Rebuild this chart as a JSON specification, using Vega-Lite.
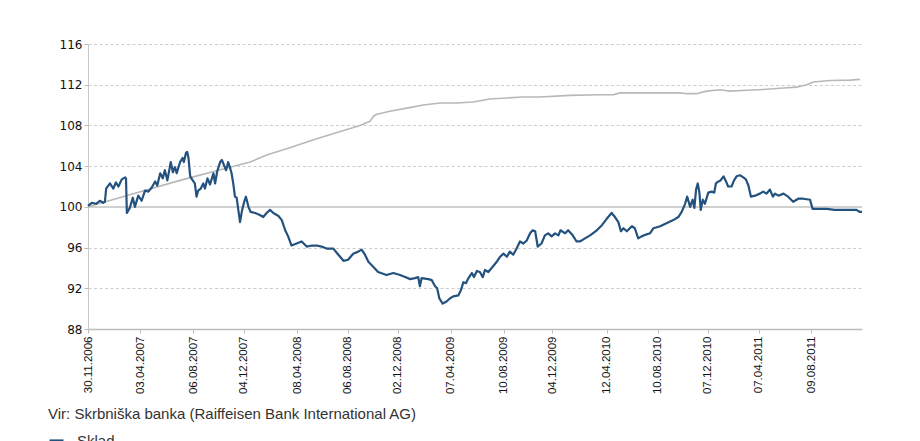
{
  "$schema": "https://vega.github.io/schema/vega-lite/v6.json",
  "width": 774,
  "height": 285,
  "autosize": {"type": "none"},
  "padding": {"left": 88, "top": 44, "right": 58, "bottom": 112},
  "background": "white",
  "config": {"view": {"stroke": null}, "font": "Liberation Sans"},
  "data": {
    "values": [
      {"series": "Primerjalni indeks", "date": "2006-11-30", "value": 100.0},
      {"series": "Primerjalni indeks", "date": "2007-03-09", "value": 101.2},
      {"series": "Primerjalni indeks", "date": "2007-07-06", "value": 102.6},
      {"series": "Primerjalni indeks", "date": "2007-11-01", "value": 103.9},
      {"series": "Primerjalni indeks", "date": "2007-12-19", "value": 104.4},
      {"series": "Primerjalni indeks", "date": "2008-01-27", "value": 105.1},
      {"series": "Primerjalni indeks", "date": "2008-03-22", "value": 105.8},
      {"series": "Primerjalni indeks", "date": "2008-05-17", "value": 106.6},
      {"series": "Primerjalni indeks", "date": "2008-08-04", "value": 107.6},
      {"series": "Primerjalni indeks", "date": "2008-09-04", "value": 108.0},
      {"series": "Primerjalni indeks", "date": "2008-09-28", "value": 108.4},
      {"series": "Primerjalni indeks", "date": "2008-10-06", "value": 108.9},
      {"series": "Primerjalni indeks", "date": "2008-10-14", "value": 109.1},
      {"series": "Primerjalni indeks", "date": "2008-11-14", "value": 109.4},
      {"series": "Primerjalni indeks", "date": "2008-12-24", "value": 109.7},
      {"series": "Primerjalni indeks", "date": "2009-02-01", "value": 110.0},
      {"series": "Primerjalni indeks", "date": "2009-03-13", "value": 110.2},
      {"series": "Primerjalni indeks", "date": "2009-04-21", "value": 110.2},
      {"series": "Primerjalni indeks", "date": "2009-05-30", "value": 110.3},
      {"series": "Primerjalni indeks", "date": "2009-07-09", "value": 110.6},
      {"series": "Primerjalni indeks", "date": "2009-08-18", "value": 110.7},
      {"series": "Primerjalni indeks", "date": "2009-09-26", "value": 110.8},
      {"series": "Primerjalni indeks", "date": "2009-11-04", "value": 110.8},
      {"series": "Primerjalni indeks", "date": "2010-01-14", "value": 110.95},
      {"series": "Primerjalni indeks", "date": "2010-03-26", "value": 111.02},
      {"series": "Primerjalni indeks", "date": "2010-04-27", "value": 111.02},
      {"series": "Primerjalni indeks", "date": "2010-05-13", "value": 111.2},
      {"series": "Primerjalni indeks", "date": "2010-08-23", "value": 111.2},
      {"series": "Primerjalni indeks", "date": "2010-10-02", "value": 111.2},
      {"series": "Primerjalni indeks", "date": "2010-10-18", "value": 111.12},
      {"series": "Primerjalni indeks", "date": "2010-11-10", "value": 111.12},
      {"series": "Primerjalni indeks", "date": "2010-12-04", "value": 111.37},
      {"series": "Primerjalni indeks", "date": "2011-01-05", "value": 111.5},
      {"series": "Primerjalni indeks", "date": "2011-01-28", "value": 111.37},
      {"series": "Primerjalni indeks", "date": "2011-03-09", "value": 111.45},
      {"series": "Primerjalni indeks", "date": "2011-04-25", "value": 111.55},
      {"series": "Primerjalni indeks", "date": "2011-06-04", "value": 111.67},
      {"series": "Primerjalni indeks", "date": "2011-07-05", "value": 111.76},
      {"series": "Primerjalni indeks", "date": "2011-07-29", "value": 112.0},
      {"series": "Primerjalni indeks", "date": "2011-08-14", "value": 112.26},
      {"series": "Primerjalni indeks", "date": "2011-09-22", "value": 112.42},
      {"series": "Primerjalni indeks", "date": "2011-11-09", "value": 112.45},
      {"series": "Primerjalni indeks", "date": "2011-12-02", "value": 112.52},

      {"series": "Sklad", "date": "2006-11-30", "value": 100.1},
      {"series": "Sklad", "date": "2006-12-09", "value": 100.4},
      {"series": "Sklad", "date": "2006-12-19", "value": 100.3},
      {"series": "Sklad", "date": "2006-12-28", "value": 100.6},
      {"series": "Sklad", "date": "2007-01-05", "value": 100.4},
      {"series": "Sklad", "date": "2007-01-09", "value": 100.5},
      {"series": "Sklad", "date": "2007-01-12", "value": 101.8},
      {"series": "Sklad", "date": "2007-01-21", "value": 102.3},
      {"series": "Sklad", "date": "2007-01-29", "value": 101.8},
      {"series": "Sklad", "date": "2007-02-04", "value": 102.4},
      {"series": "Sklad", "date": "2007-02-10", "value": 102.0},
      {"series": "Sklad", "date": "2007-02-18", "value": 102.7},
      {"series": "Sklad", "date": "2007-02-26", "value": 102.9},
      {"series": "Sklad", "date": "2007-02-28", "value": 102.8},
      {"series": "Sklad", "date": "2007-03-02", "value": 99.4},
      {"series": "Sklad", "date": "2007-03-09", "value": 99.9},
      {"series": "Sklad", "date": "2007-03-16", "value": 100.9},
      {"series": "Sklad", "date": "2007-03-21", "value": 100.0},
      {"series": "Sklad", "date": "2007-03-29", "value": 101.1},
      {"series": "Sklad", "date": "2007-04-06", "value": 100.6},
      {"series": "Sklad", "date": "2007-04-14", "value": 101.6},
      {"series": "Sklad", "date": "2007-04-22", "value": 101.5},
      {"series": "Sklad", "date": "2007-04-30", "value": 101.9},
      {"series": "Sklad", "date": "2007-05-08", "value": 102.5},
      {"series": "Sklad", "date": "2007-05-13", "value": 102.1},
      {"series": "Sklad", "date": "2007-05-20", "value": 103.3},
      {"series": "Sklad", "date": "2007-05-26", "value": 102.8},
      {"series": "Sklad", "date": "2007-05-31", "value": 103.6},
      {"series": "Sklad", "date": "2007-06-06", "value": 102.6},
      {"series": "Sklad", "date": "2007-06-14", "value": 104.4},
      {"series": "Sklad", "date": "2007-06-19", "value": 103.4},
      {"series": "Sklad", "date": "2007-06-24", "value": 103.9},
      {"series": "Sklad", "date": "2007-06-28", "value": 103.3},
      {"series": "Sklad", "date": "2007-07-06", "value": 104.4},
      {"series": "Sklad", "date": "2007-07-12", "value": 104.8},
      {"series": "Sklad", "date": "2007-07-15", "value": 104.4},
      {"series": "Sklad", "date": "2007-07-20", "value": 105.3},
      {"series": "Sklad", "date": "2007-07-23", "value": 105.4},
      {"series": "Sklad", "date": "2007-07-26", "value": 104.8},
      {"series": "Sklad", "date": "2007-07-30", "value": 103.0},
      {"series": "Sklad", "date": "2007-08-05", "value": 102.6},
      {"series": "Sklad", "date": "2007-08-10", "value": 102.3},
      {"series": "Sklad", "date": "2007-08-14", "value": 101.0},
      {"series": "Sklad", "date": "2007-08-18", "value": 101.6},
      {"series": "Sklad", "date": "2007-08-24", "value": 101.8},
      {"series": "Sklad", "date": "2007-08-30", "value": 102.3},
      {"series": "Sklad", "date": "2007-09-03", "value": 101.8},
      {"series": "Sklad", "date": "2007-09-09", "value": 102.8},
      {"series": "Sklad", "date": "2007-09-15", "value": 102.2},
      {"series": "Sklad", "date": "2007-09-23", "value": 103.3},
      {"series": "Sklad", "date": "2007-09-27", "value": 102.3},
      {"series": "Sklad", "date": "2007-10-02", "value": 103.5},
      {"series": "Sklad", "date": "2007-10-09", "value": 104.4},
      {"series": "Sklad", "date": "2007-10-13", "value": 104.6},
      {"series": "Sklad", "date": "2007-10-18", "value": 104.1},
      {"series": "Sklad", "date": "2007-10-23", "value": 103.6},
      {"series": "Sklad", "date": "2007-10-28", "value": 104.4},
      {"series": "Sklad", "date": "2007-11-01", "value": 103.9},
      {"series": "Sklad", "date": "2007-11-05", "value": 103.3},
      {"series": "Sklad", "date": "2007-11-09", "value": 102.3},
      {"series": "Sklad", "date": "2007-11-13", "value": 101.0},
      {"series": "Sklad", "date": "2007-11-17", "value": 100.9},
      {"series": "Sklad", "date": "2007-11-21", "value": 99.7},
      {"series": "Sklad", "date": "2007-11-25", "value": 98.5},
      {"series": "Sklad", "date": "2007-11-30", "value": 99.7},
      {"series": "Sklad", "date": "2007-12-05", "value": 100.5},
      {"series": "Sklad", "date": "2007-12-09", "value": 101.0},
      {"series": "Sklad", "date": "2007-12-15", "value": 100.0},
      {"series": "Sklad", "date": "2007-12-20", "value": 99.5},
      {"series": "Sklad", "date": "2007-12-31", "value": 99.4},
      {"series": "Sklad", "date": "2008-01-11", "value": 99.2},
      {"series": "Sklad", "date": "2008-01-19", "value": 99.0},
      {"series": "Sklad", "date": "2008-01-27", "value": 99.4},
      {"series": "Sklad", "date": "2008-02-04", "value": 99.7},
      {"series": "Sklad", "date": "2008-02-12", "value": 99.4},
      {"series": "Sklad", "date": "2008-02-24", "value": 99.1},
      {"series": "Sklad", "date": "2008-03-03", "value": 98.7},
      {"series": "Sklad", "date": "2008-03-11", "value": 97.7},
      {"series": "Sklad", "date": "2008-03-18", "value": 97.1},
      {"series": "Sklad", "date": "2008-03-26", "value": 96.2},
      {"series": "Sklad", "date": "2008-04-07", "value": 96.4},
      {"series": "Sklad", "date": "2008-04-19", "value": 96.6},
      {"series": "Sklad", "date": "2008-05-01", "value": 96.1},
      {"series": "Sklad", "date": "2008-05-13", "value": 96.2},
      {"series": "Sklad", "date": "2008-05-25", "value": 96.2},
      {"series": "Sklad", "date": "2008-06-05", "value": 96.1},
      {"series": "Sklad", "date": "2008-06-17", "value": 95.9},
      {"series": "Sklad", "date": "2008-07-03", "value": 95.9},
      {"series": "Sklad", "date": "2008-07-15", "value": 95.3},
      {"series": "Sklad", "date": "2008-07-27", "value": 94.7},
      {"series": "Sklad", "date": "2008-08-07", "value": 94.8},
      {"series": "Sklad", "date": "2008-08-19", "value": 95.4},
      {"series": "Sklad", "date": "2008-08-31", "value": 95.6},
      {"series": "Sklad", "date": "2008-09-08", "value": 95.8},
      {"series": "Sklad", "date": "2008-09-16", "value": 95.3},
      {"series": "Sklad", "date": "2008-09-24", "value": 94.6},
      {"series": "Sklad", "date": "2008-10-06", "value": 94.1},
      {"series": "Sklad", "date": "2008-10-17", "value": 93.6},
      {"series": "Sklad", "date": "2008-11-06", "value": 93.3},
      {"series": "Sklad", "date": "2008-11-22", "value": 93.5},
      {"series": "Sklad", "date": "2008-12-08", "value": 93.3},
      {"series": "Sklad", "date": "2008-12-20", "value": 93.1},
      {"series": "Sklad", "date": "2009-01-01", "value": 92.9},
      {"series": "Sklad", "date": "2009-01-12", "value": 93.0},
      {"series": "Sklad", "date": "2009-01-20", "value": 93.1},
      {"series": "Sklad", "date": "2009-01-24", "value": 92.2},
      {"series": "Sklad", "date": "2009-01-28", "value": 93.0},
      {"series": "Sklad", "date": "2009-02-13", "value": 92.9},
      {"series": "Sklad", "date": "2009-02-21", "value": 92.8},
      {"series": "Sklad", "date": "2009-03-01", "value": 92.2},
      {"series": "Sklad", "date": "2009-03-06", "value": 92.0},
      {"series": "Sklad", "date": "2009-03-11", "value": 91.0},
      {"series": "Sklad", "date": "2009-03-19", "value": 90.5},
      {"series": "Sklad", "date": "2009-03-28", "value": 90.7},
      {"series": "Sklad", "date": "2009-04-05", "value": 91.0},
      {"series": "Sklad", "date": "2009-04-13", "value": 91.2},
      {"series": "Sklad", "date": "2009-04-25", "value": 91.3},
      {"series": "Sklad", "date": "2009-05-01", "value": 91.8},
      {"series": "Sklad", "date": "2009-05-07", "value": 92.6},
      {"series": "Sklad", "date": "2009-05-13", "value": 92.5},
      {"series": "Sklad", "date": "2009-05-19", "value": 93.0},
      {"series": "Sklad", "date": "2009-05-27", "value": 93.5},
      {"series": "Sklad", "date": "2009-06-01", "value": 93.1},
      {"series": "Sklad", "date": "2009-06-08", "value": 93.7},
      {"series": "Sklad", "date": "2009-06-15", "value": 93.6},
      {"series": "Sklad", "date": "2009-06-22", "value": 93.1},
      {"series": "Sklad", "date": "2009-06-27", "value": 93.8},
      {"series": "Sklad", "date": "2009-07-05", "value": 93.6},
      {"series": "Sklad", "date": "2009-07-13", "value": 94.0},
      {"series": "Sklad", "date": "2009-07-25", "value": 94.6},
      {"series": "Sklad", "date": "2009-08-02", "value": 95.1},
      {"series": "Sklad", "date": "2009-08-10", "value": 95.4},
      {"series": "Sklad", "date": "2009-08-18", "value": 95.1},
      {"series": "Sklad", "date": "2009-08-25", "value": 95.6},
      {"series": "Sklad", "date": "2009-09-02", "value": 95.3},
      {"series": "Sklad", "date": "2009-09-10", "value": 95.9},
      {"series": "Sklad", "date": "2009-09-18", "value": 96.6},
      {"series": "Sklad", "date": "2009-09-26", "value": 96.4},
      {"series": "Sklad", "date": "2009-10-04", "value": 96.7},
      {"series": "Sklad", "date": "2009-10-12", "value": 97.4},
      {"series": "Sklad", "date": "2009-10-18", "value": 97.7},
      {"series": "Sklad", "date": "2009-10-24", "value": 97.6},
      {"series": "Sklad", "date": "2009-10-30", "value": 96.1},
      {"series": "Sklad", "date": "2009-11-08", "value": 96.4},
      {"series": "Sklad", "date": "2009-11-16", "value": 97.2},
      {"series": "Sklad", "date": "2009-11-24", "value": 97.4},
      {"series": "Sklad", "date": "2009-12-02", "value": 97.1},
      {"series": "Sklad", "date": "2009-12-10", "value": 97.4},
      {"series": "Sklad", "date": "2009-12-18", "value": 97.2},
      {"series": "Sklad", "date": "2009-12-23", "value": 97.7},
      {"series": "Sklad", "date": "2010-01-03", "value": 97.4},
      {"series": "Sklad", "date": "2010-01-10", "value": 97.7},
      {"series": "Sklad", "date": "2010-01-21", "value": 97.2},
      {"series": "Sklad", "date": "2010-01-30", "value": 96.6},
      {"series": "Sklad", "date": "2010-02-07", "value": 96.6},
      {"series": "Sklad", "date": "2010-02-19", "value": 96.9},
      {"series": "Sklad", "date": "2010-03-03", "value": 97.2},
      {"series": "Sklad", "date": "2010-03-19", "value": 97.7},
      {"series": "Sklad", "date": "2010-03-31", "value": 98.2},
      {"series": "Sklad", "date": "2010-04-11", "value": 98.8},
      {"series": "Sklad", "date": "2010-04-23", "value": 99.4},
      {"series": "Sklad", "date": "2010-05-01", "value": 99.0},
      {"series": "Sklad", "date": "2010-05-09", "value": 98.5},
      {"series": "Sklad", "date": "2010-05-15", "value": 97.6},
      {"series": "Sklad", "date": "2010-05-21", "value": 97.9},
      {"series": "Sklad", "date": "2010-05-29", "value": 97.6},
      {"series": "Sklad", "date": "2010-06-10", "value": 98.1},
      {"series": "Sklad", "date": "2010-06-17", "value": 97.9},
      {"series": "Sklad", "date": "2010-06-25", "value": 96.9},
      {"series": "Sklad", "date": "2010-07-03", "value": 97.1},
      {"series": "Sklad", "date": "2010-07-15", "value": 97.3},
      {"series": "Sklad", "date": "2010-07-23", "value": 97.4},
      {"series": "Sklad", "date": "2010-07-31", "value": 97.9},
      {"series": "Sklad", "date": "2010-08-16", "value": 98.1},
      {"series": "Sklad", "date": "2010-08-31", "value": 98.4},
      {"series": "Sklad", "date": "2010-09-16", "value": 98.7},
      {"series": "Sklad", "date": "2010-09-28", "value": 99.0},
      {"series": "Sklad", "date": "2010-10-06", "value": 99.5},
      {"series": "Sklad", "date": "2010-10-14", "value": 100.3},
      {"series": "Sklad", "date": "2010-10-19", "value": 101.0},
      {"series": "Sklad", "date": "2010-10-26", "value": 100.0},
      {"series": "Sklad", "date": "2010-11-01", "value": 100.7},
      {"series": "Sklad", "date": "2010-11-05", "value": 99.9},
      {"series": "Sklad", "date": "2010-11-09", "value": 101.7},
      {"series": "Sklad", "date": "2010-11-13", "value": 102.3},
      {"series": "Sklad", "date": "2010-11-17", "value": 101.4},
      {"series": "Sklad", "date": "2010-11-20", "value": 99.7},
      {"series": "Sklad", "date": "2010-11-25", "value": 100.7},
      {"series": "Sklad", "date": "2010-11-30", "value": 100.3},
      {"series": "Sklad", "date": "2010-12-08", "value": 101.4},
      {"series": "Sklad", "date": "2010-12-16", "value": 101.5},
      {"series": "Sklad", "date": "2010-12-22", "value": 101.4},
      {"series": "Sklad", "date": "2010-12-26", "value": 102.3},
      {"series": "Sklad", "date": "2011-01-01", "value": 102.5},
      {"series": "Sklad", "date": "2011-01-06", "value": 102.6},
      {"series": "Sklad", "date": "2011-01-13", "value": 103.0},
      {"series": "Sklad", "date": "2011-01-19", "value": 102.5},
      {"series": "Sklad", "date": "2011-01-24", "value": 102.0},
      {"series": "Sklad", "date": "2011-02-01", "value": 102.0},
      {"series": "Sklad", "date": "2011-02-07", "value": 102.6},
      {"series": "Sklad", "date": "2011-02-13", "value": 103.0},
      {"series": "Sklad", "date": "2011-02-21", "value": 103.1},
      {"series": "Sklad", "date": "2011-03-01", "value": 102.9},
      {"series": "Sklad", "date": "2011-03-07", "value": 102.7},
      {"series": "Sklad", "date": "2011-03-13", "value": 102.1},
      {"series": "Sklad", "date": "2011-03-19", "value": 101.0},
      {"series": "Sklad", "date": "2011-03-29", "value": 101.1},
      {"series": "Sklad", "date": "2011-04-09", "value": 101.3},
      {"series": "Sklad", "date": "2011-04-17", "value": 101.5},
      {"series": "Sklad", "date": "2011-04-25", "value": 101.3},
      {"series": "Sklad", "date": "2011-05-03", "value": 101.7},
      {"series": "Sklad", "date": "2011-05-10", "value": 101.0},
      {"series": "Sklad", "date": "2011-05-15", "value": 101.3},
      {"series": "Sklad", "date": "2011-05-23", "value": 101.1},
      {"series": "Sklad", "date": "2011-06-04", "value": 101.3},
      {"series": "Sklad", "date": "2011-06-15", "value": 101.0},
      {"series": "Sklad", "date": "2011-06-27", "value": 100.5},
      {"series": "Sklad", "date": "2011-07-09", "value": 100.8},
      {"series": "Sklad", "date": "2011-07-21", "value": 100.8},
      {"series": "Sklad", "date": "2011-08-06", "value": 100.7},
      {"series": "Sklad", "date": "2011-08-12", "value": 99.8},
      {"series": "Sklad", "date": "2011-08-25", "value": 99.8},
      {"series": "Sklad", "date": "2011-09-14", "value": 99.8},
      {"series": "Sklad", "date": "2011-10-04", "value": 99.7},
      {"series": "Sklad", "date": "2011-10-24", "value": 99.7},
      {"series": "Sklad", "date": "2011-11-13", "value": 99.7},
      {"series": "Sklad", "date": "2011-11-24", "value": 99.7},
      {"series": "Sklad", "date": "2011-12-02", "value": 99.5},
      {"series": "Sklad", "date": "2011-12-07", "value": 99.5}
    ]
  },
  "layer": [
    {
      "mark": {"type": "rule", "color": "#d0d0d0", "strokeWidth": 1.5},
      "encoding": {"y": {"datum": 100, "type": "quantitative", "scale": {"domain": [88, 116]}}}
    },
    {
      "mark": {"type": "line", "strokeJoin": "round"},
      "encoding": {
        "x": {
          "field": "date",
          "type": "temporal",
          "scale": {"type": "utc", "domain": [{"year": 2006, "month": 11, "date": 30, "utc": true}, {"year": 2011, "month": 12, "date": 7, "utc": true}]},
          "axis": {
            "title": null,
            "values": [
              {"year": 2006, "month": 11, "date": 30, "utc": true},
              {"year": 2007, "month": 4, "date": 3, "utc": true},
              {"year": 2007, "month": 8, "date": 6, "utc": true},
              {"year": 2007, "month": 12, "date": 4, "utc": true},
              {"year": 2008, "month": 4, "date": 8, "utc": true},
              {"year": 2008, "month": 8, "date": 6, "utc": true},
              {"year": 2008, "month": 12, "date": 2, "utc": true},
              {"year": 2009, "month": 4, "date": 7, "utc": true},
              {"year": 2009, "month": 8, "date": 10, "utc": true},
              {"year": 2009, "month": 12, "date": 4, "utc": true},
              {"year": 2010, "month": 4, "date": 12, "utc": true},
              {"year": 2010, "month": 8, "date": 10, "utc": true},
              {"year": 2010, "month": 12, "date": 7, "utc": true},
              {"year": 2011, "month": 4, "date": 7, "utc": true},
              {"year": 2011, "month": 8, "date": 9, "utc": true}
            ],
            "labelExpr": "utcFormat(datum.value, '%d.%m.%Y')",
            "labelAngle": -90,
            "labelAlign": "right",
            "labelBaseline": "middle",
            "labelFont": "Liberation Sans",
            "labelFontSize": 11.5,
            "labelColor": "#111111",
            "labelPadding": 3,
            "labelOverlap": false,
            "labelFlush": false,
            "tickSize": 4,
            "tickColor": "#bbbbbb",
            "domainColor": "#bdbdbd",
            "domainWidth": 1.5,
            "grid": false
          }
        },
        "y": {
          "field": "value",
          "type": "quantitative",
          "scale": {"domain": [88, 116]},
          "axis": {
            "title": null,
            "values": [88, 92, 96, 100, 104, 108, 112, 116],
            "grid": true,
            "gridDash": [3, 2.5],
            "gridColor": "#cccccc",
            "domainColor": "#c8c8c8",
            "tickSize": 4,
            "tickColor": "#bbbbbb",
            "labelFont": "DejaVu Sans",
            "labelFontSize": 12,
            "labelColor": "#111111",
            "labelPadding": 2
          }
        },
        "color": {
          "field": "series",
          "type": "nominal",
          "scale": {"domain": ["Sklad", "Primerjalni indeks"], "range": ["#24527e", "#b8b8b8"]},
          "legend": {
            "orient": "none",
            "legendX": -40,
            "legendY": 363,
            "padding": 0,
            "direction": "vertical",
            "title": "Vir: Skrbniška banka (Raiffeisen Bank International AG)",
            "titleFont": "Liberation Sans",
            "titleFontSize": 15,
            "titleFontWeight": "normal",
            "titleColor": "#333333",
            "titleLimit": 1000,
            "titlePadding": 10,
            "labelFont": "Liberation Sans",
            "labelFontSize": 15,
            "labelColor": "#333333",
            "labelOffset": 12,
            "symbolType": "stroke",
            "symbolSize": 196,
            "symbolStrokeWidth": 3.5
          }
        },
        "strokeWidth": {
          "field": "series",
          "type": "nominal",
          "scale": {"domain": ["Sklad", "Primerjalni indeks"], "range": [2.2, 1.6]},
          "legend": null
        }
      }
    }
  ]
}
